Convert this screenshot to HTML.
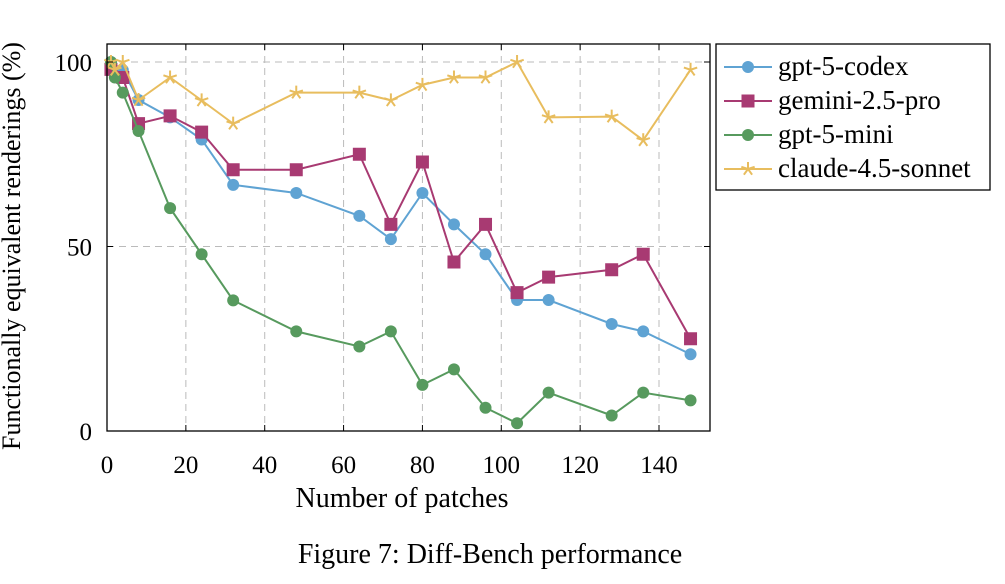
<!DOCTYPE html>
<html><head><meta charset="utf-8"><style>
body{margin:0;background:#fff;width:1005px;height:579px;overflow:hidden;font-family:"Liberation Serif",serif;}
</style></head><body>
<svg width="1005" height="579" font-family="Liberation Serif, serif">
<g id="grid"></g>
<g id="series"></g>
<rect x="107" y="44" width="603" height="387" fill="none" stroke="#000" stroke-width="1.3"/>
<g id="ticks"></g>
<text x="402" y="507" font-size="28" text-anchor="middle">Number of patches</text>
<text transform="translate(20,246) rotate(-90)" font-size="26" text-anchor="middle">Functionally equivalent renderings (%)</text>
<g>
<rect x="716" y="44" width="274" height="146" fill="#fff" stroke="#000" stroke-width="1.3"/>
<g id="legend"></g>
</g>
<text x="490" y="563" font-size="28" text-anchor="middle">Figure 7: Diff-Bench performance</text>
</svg>
<script>
const xs = [1,4,8,16,24,32,48,64,72,80,88,96,104,112,128,136,148];
const codex = [100,97.8,89.7,85,79,66.7,64.5,58.3,52,64.5,56,47.9,35.5,35.5,29,27,20.8];
const gemini = [98,95.8,83.3,85.4,81,70.8,70.8,75,56,72.9,45.8,56,37.5,41.7,43.7,47.9,25];
const miniX = [1,2,4,8,16,24,32,48,64,72,80,88,96,104,112,128,136,148];
const mini = [100,95.8,91.7,81.3,60.4,47.9,35.4,27,22.9,27,12.5,16.7,6.3,2.1,10.4,4.2,10.4,8.3];
const claudeX = [1,2,4,8,16,24,32,48,64,72,80,88,96,104,112,128,136,148];
const claude = [100,97.9,100,89.7,95.8,89.6,83.3,91.7,91.7,89.6,93.8,95.8,95.8,100,85,85.2,78.8,97.9];
const xTicks = [0,20,40,60,80,100,120,140];
const yTicks = [0,50,100];
const names = ["gpt-5-codex","gemini-2.5-pro","gpt-5-mini","claude-4.5-sonnet"];
const colors = ["#5fa3d3","#a83a72","#579a5e","#e8bd5e"];
const X = v => 107 + v*(552/140);
const Y = v => 431 - v*(369/100);
const NS="http://www.w3.org/2000/svg";
function mk(t,a,p){const e=document.createElementNS(NS,t);for(const k in a)e.setAttribute(k,a[k]);p.appendChild(e);return e;}
const grid=document.getElementById('grid'),ticks=document.getElementById('ticks'),ser=document.getElementById('series'),leg=document.getElementById('legend');
xTicks.forEach(t=>{
  if(t>0){const l=mk('line',{x1:X(t),x2:X(t),y1:44,y2:431,stroke:'#bbb','stroke-dasharray':'7 5'},grid);
  
  }
  mk('line',{x1:X(t),x2:X(t),y1:431,y2:425,stroke:'#000'},ticks);
  mk('line',{x1:X(t),x2:X(t),y1:44,y2:50,stroke:'#000'},ticks);
  const tx=mk('text',{x:X(t),y:473,'font-size':25,'text-anchor':'middle'},ticks);tx.textContent=t;
  
  
});
yTicks.forEach(t=>{
  if(t>0){const l=mk('line',{x1:107,x2:710,y1:Y(t),y2:Y(t),stroke:'#bbb','stroke-dasharray':'7 5'},grid);
  
  }
  mk('line',{x1:107,x2:113,y1:Y(t),y2:Y(t),stroke:'#000'},ticks);
  mk('line',{x1:704,x2:710,y1:Y(t),y2:Y(t),stroke:'#000'},ticks);
  const tx=mk('text',{x:92,y:Y(t)+9,'font-size':25,'text-anchor':'end'},ticks);tx.textContent=t;
  
  
});
function marker(kind,x,y,c,p){
  if(kind==0||kind==2) return mk('circle',{cx:x,cy:y,r:6,fill:c},p);
  if(kind==1) return mk('rect',{x:x-6.5,y:y-6.5,width:13,height:13,fill:c},p);
  const g=mk('g',{stroke:c,'stroke-width':2},p);
  for(let a=0;a<5;a++){const an=(a*72-90)*Math.PI/180;mk('line',{x1:x,y1:y,x2:x+7*Math.cos(an),y2:y+7*Math.sin(an)},g);}
  return g;
}
const all=[[xs,codex],[xs,gemini],[miniX,mini],[claudeX,claude]];
all.forEach((s,i)=>{
  const g=mk('g',{},ser);
  
  
  mk('polyline',{points:s[0].map((x,j)=>X(x)+','+Y(s[1][j])).join(' '),fill:'none',stroke:colors[i],'stroke-width':2},g);
  s[0].forEach((x,j)=>{const m=marker(i,X(x),Y(s[1][j]),colors[i],g);
    
    });
  const ly=67+i*34;
  const lg=mk('g',{},leg);
  
  
  mk('line',{x1:724,x2:772,y1:ly,y2:ly,stroke:colors[i],'stroke-width':2},lg);
  marker(i,748,ly,colors[i],lg);
  const t=mk('text',{x:778,y:ly+8,'font-size':27},lg);t.textContent=names[i];
});
</script>
</body></html>
